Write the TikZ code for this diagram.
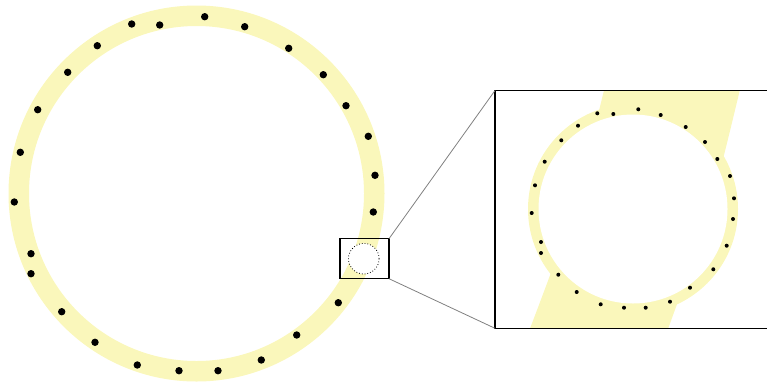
\documentclass[tikz,border=0pt]{standalone}
\definecolor{ringyel}{RGB}{250,247,187}
\definecolor{linkgray}{RGB}{128,128,128}
\begin{document}
\begin{tikzpicture}[x=1pt,y=-1pt,
  framebox/.style={draw=black,line width=1.5pt,inner sep=0pt,outer sep=0pt},
  linkline/.style={draw=linkgray,line width=0.8pt}]
\useasboundingbox (0,0) rectangle (767,381);
% main ring
\fill[ringyel,even odd rule] (196.5,193.5) circle (188) (196.5,193.5) circle (167.5);
\foreach \x/\y in {204.7/16.7,244.7/26.7,288.7/48.3,323.3/74.7,346/105.7,368.3/136.3,375/175.3,373.3/212,338.3/302.7,296.7/335,261.3/360,218/370.7,179/370.7,137.3/365,95/342.3,61.7/311.7,31/273.7,31/253.7,14.3/202,20.3/152.3,37.7/109.7,67.7/72.3,97.3/45.7,131.7/24,159.7/25}
  \fill (\x,\y) circle (3.7);
% small ring seen from afar
\fill[white] (363.8,258.7) circle (15.3);
\draw[dotted,line width=0.8pt] (363.8,258.7) circle (15.3);
\node[framebox,minimum width=49pt,minimum height=40pt] (lens) at (364.5,258.7) {};
% magnified view
\begin{scope}
  \clip (495,90.5) rectangle (784,328.3);
  \fill[ringyel] (747,60) .. controls (711,211) .. (656.7,360) -- (518,360) .. controls (574.8,211) .. (611.3,60) -- cycle;
  \fill[ringyel] (633,209) circle (105);
  \fill[white] (633,209) circle (94.5);
  \foreach \x/\y in {597.3/113.3,613.3/114,638.3/109.3,660.7/115,685.7/127,705/142,717.3/159,730/176,734/198.3,733/219,726.7/245.7,713.3/269.3,690/287.7,670/301.7,645.7/307.7,624/307.7,600.7/304.3,576.7/292,558.3/274.7,541/253,541/242,531.7/213,535/185.3,544.7/161.7,561.3/140.3,578/125.7}
    \fill (\x,\y) circle (2);
\end{scope}
\node[framebox,minimum width=289pt,minimum height=237.8pt] (zoom) at (639.5,209.4) {};
\draw[linkline] (lens.north east) -- (zoom.north west);
\draw[linkline] (lens.south east) -- (zoom.south west);
\end{tikzpicture}
\end{document}
